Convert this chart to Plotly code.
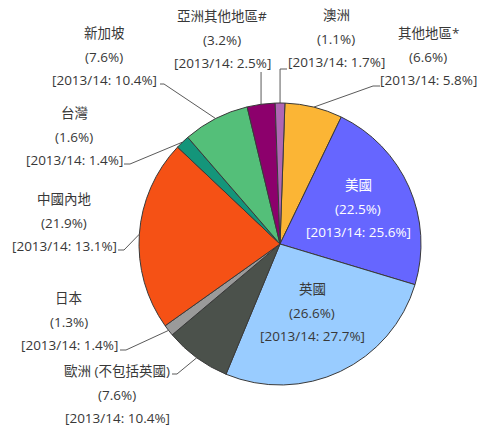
import math
import plotly.graph_objects as go

# data, clockwise from 12 o'clock
regions = ["其他地區*", "美國", "英國", "歐洲 (不包括英國)", "日本",
           "中國內地", "台灣", "新加坡", "亞洲其他地區#", "澳洲"]
share = [6.6, 22.5, 26.6, 7.6, 1.3, 21.9, 1.6, 7.6, 3.2, 1.1]
share_prev = [5.8, 25.6, 27.7, 10.4, 1.4, 13.1, 1.4, 10.4, 2.5, 1.7]
colors = ["#FBB535", "#6666FF", "#99CCFF", "#4B514B", "#9A9A9A",
          "#F55115", "#14957A", "#54BF79", "#8C006C", "#B066B4"]

# layout (pixel coordinates in a 490x432 page)
W, H = 490, 432
cx, cy, r = 280, 244, 141
rotation = 2
line_gap = 23.5
# label centre x, first line y
label_pos = [(428, 33), (358, 185), (312, 289), (117, 371), (69, 298),
             (64, 199), (74, 113), (104, 33), (222, 16), (336, 15)]
text_col = ["#383838", "white", "#383838", "#383838", "#383838",
            "#383838", "#383838", "#383838", "#383838", "#383838"]
# leader: start at text, elbow (None -> no leader)
leaders = [((380, 86), (373, 86)), None, None,
           ((172, 374), (177, 374)), ((120, 350), (126, 350)),
           ((118, 250), (124, 250)), ((124, 164), (130, 164)),
           ((160, 84), (164, 84)), ("v", 72), ((287, 69), "v")]

fig = go.Figure()
fig.add_trace(go.Pie(
    labels=regions, values=share, sort=False, direction="clockwise",
    rotation=rotation, textinfo="none", hoverinfo="skip",
    marker=dict(colors=colors, line=dict(color="#3A3A3A", width=1)),
    domain=dict(x=[(cx - r) / W, (cx + r) / W],
                y=[(H - cy - r) / H, (H - cy + r) / H]),
    showlegend=False,
))

# leader lines computed from the slice mid-angles
total = sum(share)
lx, ly = [], []
acc = 0
for v, ld in zip(share, leaders):
    mid = math.radians(rotation + (acc + v / 2) / total * 360)
    acc += v
    if ld is None:
        continue
    ex, ey = cx + r * math.sin(mid), cy - r * math.cos(mid)
    if ld[0] == "v":
        pts = [(ex, ld[1])]
    elif ld[1] == "v":
        pts = [ld[0], (ex, ld[0][1])]
    else:
        pts = [ld[0], ld[1]]
    pts.append((ex, ey))
    for p in pts:
        lx.append(p[0])
        ly.append(p[1])
    lx.append(None)
    ly.append(None)

fig.add_trace(go.Scatter(x=lx, y=ly, mode="lines", hoverinfo="skip",
                         line=dict(color="#5A5A5A", width=1),
                         showlegend=False))

font = "Open Sans, Noto Sans CJK TC, sans-serif"
for name, v, pv, (x, y), col in zip(regions, share, share_prev,
                                    label_pos, text_col):
    lines = [name, f"({v}%)", f"[2013/14: {pv}%]"]
    for i, t in enumerate(lines):
        fig.add_annotation(x=x, y=y + i * line_gap, text=t, showarrow=False,
                           xref="x", yref="y", xanchor="center",
                           yanchor="middle",
                           font=dict(family=font, size=13.5, color=col))

fig.update_layout(
    width=W, height=H, margin=dict(l=0, r=0, t=0, b=0),
    paper_bgcolor="white", plot_bgcolor="rgba(0,0,0,0)",
    xaxis=dict(range=[0, W], visible=False, fixedrange=True),
    yaxis=dict(range=[H, 0], visible=False, fixedrange=True),
)
fig.write_html("out.html", config=dict(displayModeBar=False),
               post_script="document.body.style.margin='0px';")
